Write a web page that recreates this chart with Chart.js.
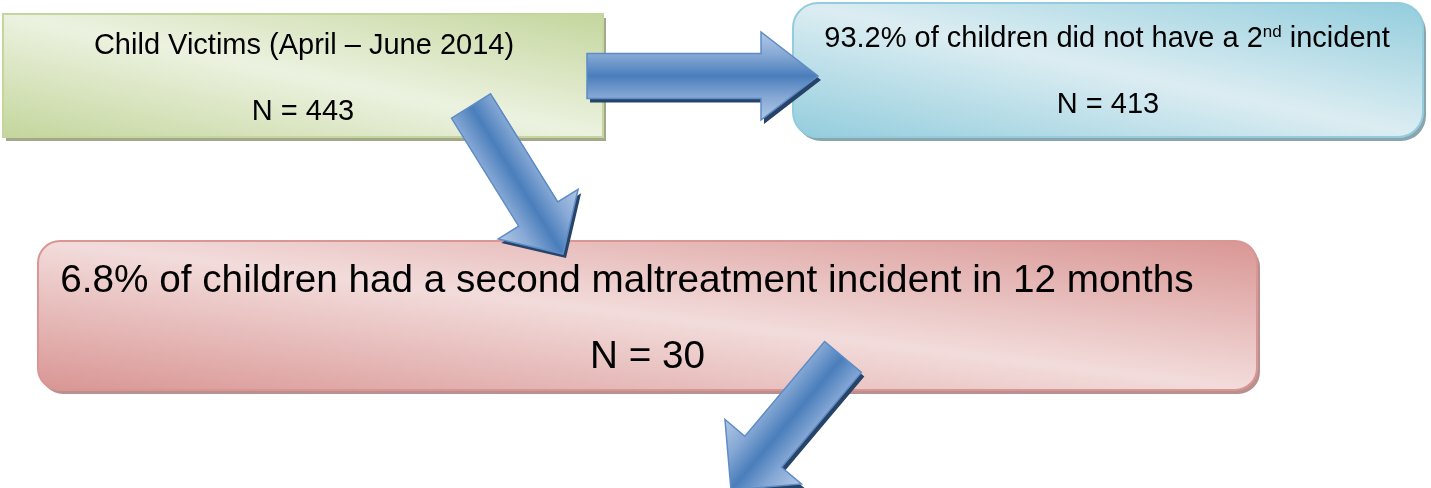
<!DOCTYPE html>
<html>
<head>
<meta charset="utf-8">
<script src="https://cdn.jsdelivr.net/npm/chart.js@4.4.1/dist/chart.umd.min.js"></script>
<style>
  body { margin: 0; background: #ffffff; }
  #flowChart { display: block; }
</style>
</head>
<body>
<canvas id="flowChart" width="1431" height="488"></canvas>
<script>

// values of the flow
const periodLabel = 'April – June 2014';
const childCounts = [ 443, 413, 30 ];
const childShares = [ 100, 93.2, 6.8 ];
const followUpMonths = 12;

// box text, built from the values above
const boxTitles = [
    [ { text: 'Child Victims (' + periodLabel + ')' } ],
    [ { text: childShares[ 1 ] + '% of children did not have a 2' }, { text: 'nd', sup: true }, { text: ' incident' } ],
    [ { text: childShares[ 2 ] + '% of children had a second maltreatment incident in ' + followUpMonths + ' months' } ],
];
const boxCountLabels = childCounts.map( function( n ) { return 'N = ' + n; } );

// layout, in scale units (x: 0..1431, y: 0..488 from the top)
const boxLayout = [
    { x0: 3, y0: 14, x1: 603, y1: 137, radius: 0, font: 29, titleX: 304, titleY: 54, countY: 120,
      dark: '#c4d69d', light: '#ecf2e0', border: '#c3d69b', shadow: '#a3a88d' },
    { x0: 793, y0: 3, x1: 1423, y1: 137, radius: 25, font: 29, titleX: 1107, titleY: 47, countY: 113,
      dark: '#93cddd', light: '#dcedf2', border: '#93cddd', shadow: '#8ba5ad' },
    { x0: 38, y0: 241, x1: 1257, y1: 390, radius: 22, font: 38.7, titleX: 627, titleY: 292, countY: 368,
      dark: '#d99694', light: '#f2dcdb', border: '#d99694', shadow: '#b8908f' },
];

const arrowLayout = [
    { tail: [ 587, 76 ], tip: [ 818, 76 ], body: 45, head: 88, headLength: 57 },
    { tail: [ 471, 106 ], tip: [ 563, 254 ], body: 46, head: 94, headLength: 47 },
    { tail: [ 843, 357 ], tip: [ 731, 490 ], body: 48, head: 100, headLength: 50 },
];

const fontFamily = '"Liberation Sans", Arial, sans-serif';

function px( chart, x, y ) {

    return [ chart.scales.x.getPixelForValue( x ), chart.scales.y.getPixelForValue( y ) ];

}

function roundRectPath( ctx, x0, y0, x1, y1, r ) {

    ctx.beginPath();
    ctx.moveTo( x0 + r, y0 );
    ctx.lineTo( x1 - r, y0 );
    ctx.arcTo( x1, y0, x1, y0 + r, r );
    ctx.lineTo( x1, y1 - r );
    ctx.arcTo( x1, y1, x1 - r, y1, r );
    ctx.lineTo( x0 + r, y1 );
    ctx.arcTo( x0, y1, x0, y1 - r, r );
    ctx.lineTo( x0, y0 + r );
    ctx.arcTo( x0, y0, x0 + r, y0, r );
    ctx.closePath();

}

// light band running from the top left to the bottom right corner
function boxGradient( ctx, x0, y0, x1, y1, dark, light ) {

    let w = x1 - x0, h = y1 - y0;
    let cx = ( x0 + x1 ) / 2, cy = ( y0 + y1 ) / 2;
    let L = Math.sqrt( w * w + h * h );
    let ux = h / L, uy = -w / L;
    let k = w * h / L;
    let g = ctx.createLinearGradient( cx - ux * k, cy - uy * k, cx + ux * k, cy + uy * k );
    g.addColorStop( 0, dark );
    g.addColorStop( 0.5, light );
    g.addColorStop( 1, dark );
    return g;

}

function drawBox( chart, i ) {

    let ctx = chart.ctx;
    let b = boxLayout[ i ];
    let [ x0, y0 ] = px( chart, b.x0, b.y0 );
    let [ x1, y1 ] = px( chart, b.x1, b.y1 );

    roundRectPath( ctx, x0 + 3, y0 + 4, x1 + 3, y1 + 4, b.radius );
    ctx.fillStyle = b.shadow;
    ctx.fill();

    roundRectPath( ctx, x0, y0, x1, y1, b.radius );
    ctx.fillStyle = boxGradient( ctx, x0, y0, x1, y1, b.dark, b.light );
    ctx.fill();
    ctx.lineWidth = 2;
    ctx.strokeStyle = b.border;
    ctx.stroke();

    drawTitle( chart, i );

    let [ cx, cy ] = px( chart, ( b.x0 + b.x1 ) / 2, b.countY );
    ctx.font = b.font + 'px ' + fontFamily;
    ctx.fillStyle = '#000000';
    ctx.textAlign = 'center';
    ctx.textBaseline = 'alphabetic';
    ctx.fillText( boxCountLabels[ i ], cx, cy );

}

function drawTitle( chart, i ) {

    let ctx = chart.ctx;
    let b = boxLayout[ i ];
    let parts = boxTitles[ i ];
    let supSize = Math.round( b.font * 0.6 );
    let [ tx, ty ] = px( chart, b.titleX, b.titleY );

    let widths = parts.map( function( p ) {
        ctx.font = ( p.sup ? supSize : b.font ) + 'px ' + fontFamily;
        return ctx.measureText( p.text ).width;
    } );
    let total = widths.reduce( function( a, c ) { return a + c; }, 0 );

    let x = tx - total / 2;
    ctx.fillStyle = '#000000';
    ctx.textAlign = 'left';
    ctx.textBaseline = 'alphabetic';
    parts.forEach( function( p, j ) {
        ctx.font = ( p.sup ? supSize : b.font ) + 'px ' + fontFamily;
        ctx.fillText( p.text, x, p.sup ? ty - b.font * 0.36 : ty );
        x += widths[ j ];
    } );

}

function arrowPoints( chart, a, dx, dy ) {

    let [ tx, ty ] = px( chart, a.tail[ 0 ], a.tail[ 1 ] );
    let [ px2, py2 ] = px( chart, a.tip[ 0 ], a.tip[ 1 ] );
    let len = Math.hypot( px2 - tx, py2 - ty );
    let ux = ( px2 - tx ) / len, uy = ( py2 - ty ) / len;
    let nx = -uy, ny = ux;
    let bx = px2 - ux * a.headLength, by = py2 - uy * a.headLength;
    let hb = a.body / 2, hh = a.head / 2;

    return {
        pts: [
            [ tx + nx * hb, ty + ny * hb ],
            [ bx + nx * hb, by + ny * hb ],
            [ bx + nx * hh, by + ny * hh ],
            [ px2, py2 ],
            [ bx - nx * hh, by - ny * hh ],
            [ bx - nx * hb, by - ny * hb ],
            [ tx - nx * hb, ty - ny * hb ],
        ].map( function( p ) { return [ p[ 0 ] + dx, p[ 1 ] + dy ]; } ),
        tx: tx, ty: ty, nx: nx, ny: ny, hh: hh,
    };

}

function polyPath( ctx, pts ) {

    ctx.beginPath();
    pts.forEach( function( p, j ) {
        if ( j === 0 ) ctx.moveTo( p[ 0 ], p[ 1 ] ); else ctx.lineTo( p[ 0 ], p[ 1 ] );
    } );
    ctx.closePath();

}

function drawArrow( chart, a ) {

    let ctx = chart.ctx;

    let shadow = arrowPoints( chart, a, 3, 4 );
    polyPath( ctx, shadow.pts );
    ctx.fillStyle = '#274468';
    ctx.fill();

    let g = arrowPoints( chart, a, 0, 0 );
    polyPath( ctx, g.pts );
    let grad = ctx.createLinearGradient(
        g.tx + g.nx * g.hh, g.ty + g.ny * g.hh,
        g.tx - g.nx * g.hh, g.ty - g.ny * g.hh );
    grad.addColorStop( 0, '#b2c8e4' );
    grad.addColorStop( 0.26, '#86a8d5' );
    grad.addColorStop( 0.5, '#4a7ebb' );
    grad.addColorStop( 0.74, '#86a8d5' );
    grad.addColorStop( 1, '#b2c8e4' );
    ctx.fillStyle = grad;
    ctx.fill();
    ctx.lineWidth = 1.5;
    ctx.lineJoin = 'miter';
    ctx.strokeStyle = '#5d8cc7';
    ctx.stroke();

}

const flowPlugin = {
    id: 'flowDiagram',
    afterDatasetsDraw: function( chart ) {
        let ctx = chart.ctx;
        ctx.save();
        boxLayout.forEach( function( b, i ) { drawBox( chart, i ); } );
        arrowLayout.forEach( function( a ) { drawArrow( chart, a ); } );
        ctx.restore();
    },
};

let ctx = document.getElementById( 'flowChart' ).getContext( '2d' );
let flowChart = new Chart( ctx, {
    type: 'scatter',
    data: {
        datasets: [ {
            data: boxLayout.map( function( b, i ) {
                return { x: ( b.x0 + b.x1 ) / 2, y: ( b.y0 + b.y1 ) / 2, n: childCounts[ i ] };
            } ),
            pointRadius: 0,
        } ],
    },
    options: {
        responsive: false,
        animation: false,
        layout: { padding: 0 },
        plugins: {
            legend: { display: false },
            tooltip: { enabled: false },
        },
        scales: {
            x: { type: 'linear', min: 0, max: 1431, display: false },
            y: { type: 'linear', min: 0, max: 488, reverse: true, display: false },
        },
    },
    plugins: [ flowPlugin ],
} );

</script>
</body>
</html>
